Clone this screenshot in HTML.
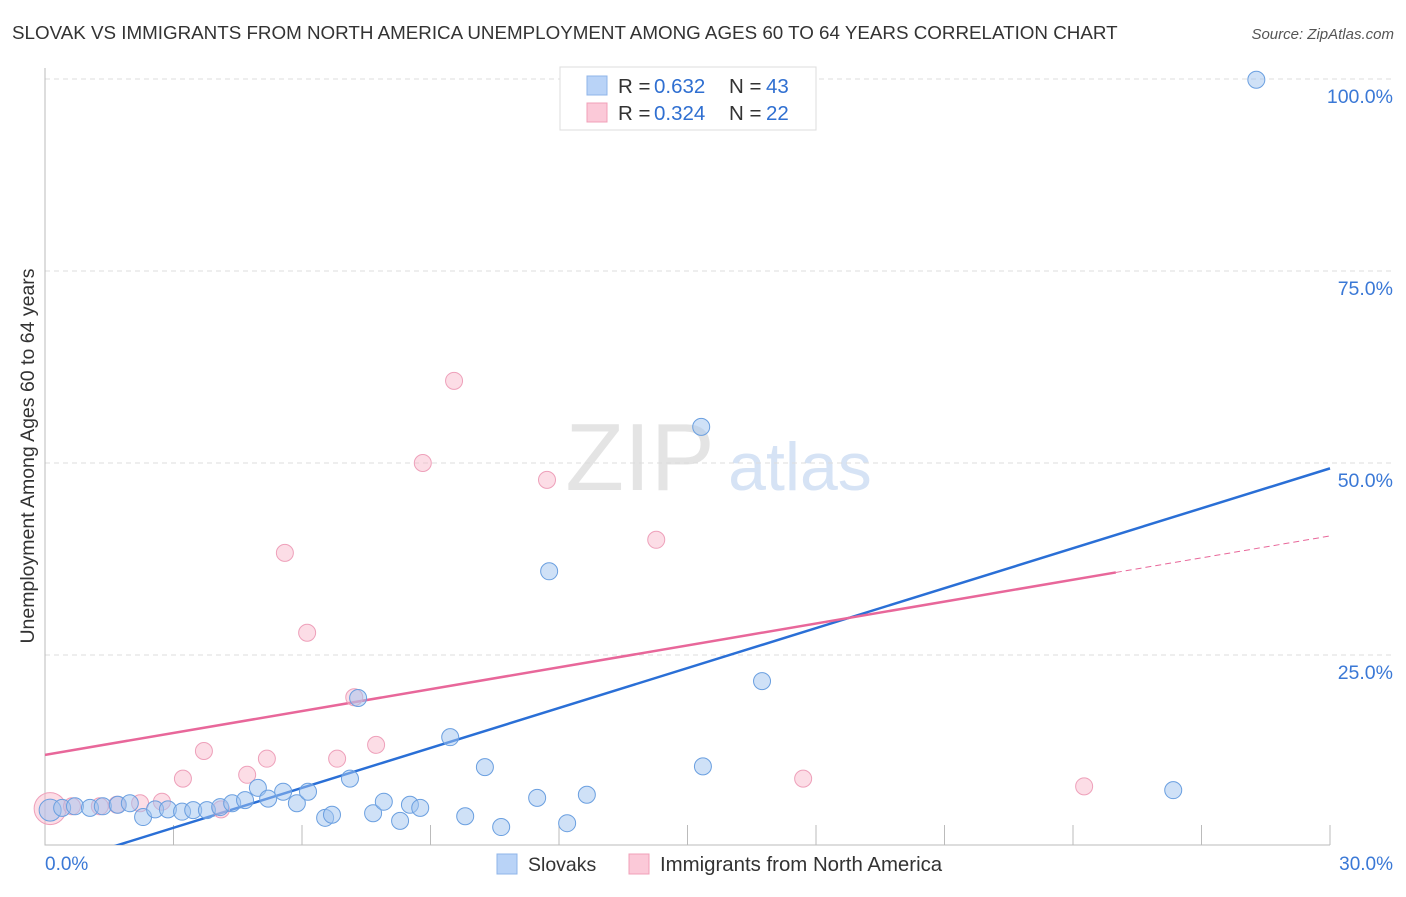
<!DOCTYPE html>
<html><head><meta charset="utf-8">
<style>
body{margin:0;background:#fff;font-family:"Liberation Sans",sans-serif;}
svg text{font-family:"Liberation Sans",sans-serif;}
</style></head>
<body>
<svg id="chart" width="1406" height="892" xmlns="http://www.w3.org/2000/svg">
<defs><clipPath id="plotclip"><rect x="45" y="60" width="1300" height="785"/></clipPath></defs>
<text x="12" y="39" font-size="18.8" fill="#333">SLOVAK VS IMMIGRANTS FROM NORTH AMERICA UNEMPLOYMENT AMONG AGES 60 TO 64 YEARS CORRELATION CHART</text>
<text x="1394" y="39" font-size="15" fill="#555" font-style="italic" text-anchor="end">Source: ZipAtlas.com</text>
<text x="34" y="456" font-size="19.5" fill="#333" text-anchor="middle" transform="rotate(-90 34 456)">Unemployment Among Ages 60 to 64 years</text>
<g>
<text x="640" y="490" font-size="96" fill="#e4e4e4" font-family="Liberation Serif" text-anchor="middle">ZIP</text>
<text x="800" y="490" font-size="68" fill="#d6e3f5" text-anchor="middle">atlas</text>
</g>
<g id="grid"></g><g id="axes"></g><g id="lines" clip-path="url(#plotclip)"></g><g id="pts"></g>
<g>
<rect x="560" y="67" width="256" height="63" fill="#fff" stroke="#ddd"/>
<rect x="587" y="76" width="20" height="19" fill="#b9d3f7" stroke="#8fb4e8"/>
<rect x="587" y="103" width="20" height="19" fill="#fbc9d8" stroke="#f0a0b8"/>
<text x="618" y="93" font-size="20.5" fill="#333">R =</text>
<text x="654" y="93" font-size="20.5" fill="#2f6fd1">0.632</text>
<text x="729" y="93" font-size="20.5" fill="#333">N =</text>
<text x="766" y="93" font-size="20.5" fill="#2f6fd1">43</text>
<text x="618" y="120" font-size="20.5" fill="#333">R =</text>
<text x="654" y="120" font-size="20.5" fill="#2f6fd1">0.324</text>
<text x="729" y="120" font-size="20.5" fill="#333">N =</text>
<text x="766" y="120" font-size="20.5" fill="#2f6fd1">22</text>
</g>
<g>
<rect x="497" y="854" width="20" height="20" fill="#b9d3f7" stroke="#8fb4e8"/>
<text x="528" y="871" font-size="19.5" fill="#333">Slovaks</text>
<rect x="629" y="854" width="20" height="20" fill="#fbc9d8" stroke="#f0a0b8"/>
<text x="660" y="871" font-size="20.4" fill="#333">Immigrants from North America</text>
</g>
</svg>
<script>
const blueX=[0.12,0.40,0.70,1.05,1.35,1.70,1.98,2.29,2.57,2.87,3.20,3.46,3.78,4.09,4.37,4.67,4.97,5.21,5.56,5.88,6.14,6.54,6.70,7.12,7.31,7.66,7.91,8.29,8.52,8.76,9.46,9.81,10.27,10.65,11.49,11.77,12.19,12.65,15.32,15.36,16.74,26.34,28.28];
const blueY=[4.8,5.1,5.3,5.1,5.3,5.5,5.7,3.9,4.9,4.9,4.6,4.8,4.8,5.2,5.7,6.1,7.7,6.3,7.2,5.7,7.2,3.8,4.2,8.9,19.4,4.4,5.9,3.4,5.5,5.1,14.3,4.0,10.4,2.6,6.4,35.9,3.1,6.8,54.7,10.5,21.6,7.4,99.9];
const pinkX=[0.12,0.63,1.28,1.68,2.22,2.73,3.22,3.71,4.11,4.72,5.18,5.6,6.12,6.82,7.22,7.73,8.82,9.55,11.72,14.27,17.7,24.26];
const pinkY=[5.0,5.3,5.3,5.5,5.7,5.9,8.9,12.5,4.9,9.4,11.5,38.3,27.9,11.5,19.5,13.3,50.0,60.7,47.8,40.0,8.9,7.9];
const trendBlue=[-2.7,49.3];
const trendPink=[12.0,40.5];
const yTicks=[25,50,75,100];
const xTickCount=10;
const X=v=>45+v*(1285/30), Y=v=>847-v*7.68;
const ns="http://www.w3.org/2000/svg";
function mk(p,t,a){const e=document.createElementNS(ns,t);for(const k in a)e.setAttribute(k,a[k]);document.getElementById(p).appendChild(e);return e;}
yTicks.forEach(t=>{
 const l=mk('grid','line',{x1:45,x2:1392,y1:Y(t),y2:Y(t),stroke:'#ddd','stroke-dasharray':'5,4'});
 
 
 const tx=mk('grid','text',{x:1393,y:Y(t)+24,'font-size':19.5,fill:'#3a78d6','text-anchor':'end'});tx.textContent=t.toFixed(1)+'%';
 
 
});
const ax=mk('axes','path',{d:'M45,68V845H1330',stroke:'#bbb',fill:'none'});


for(let i=1;i<=xTickCount;i++){const x=X(i*3);const t=mk('axes','line',{x1:x,x2:x,y1:825,y2:845,stroke:'#bbb'});
 
 }
const t0=mk('axes','text',{x:45,y:870,'font-size':19,fill:'#3a78d6'});t0.textContent='0.0%';


const t1=mk('axes','text',{x:1393,y:870,'font-size':19,fill:'#3a78d6','text-anchor':'end'});t1.textContent='30.0%';


const lb=mk('lines','line',{x1:X(0),y1:Y(trendBlue[0]),x2:X(30),y2:Y(trendBlue[1]),stroke:'#2a6fd6','stroke-width':2.5});


const pe=trendPink[0]+(trendPink[1]-trendPink[0])*25/30;
const lp=mk('lines','line',{x1:X(0),y1:Y(trendPink[0]),x2:X(25),y2:Y(pe),stroke:'#e8679a','stroke-width':2.5});


const lpd=mk('lines','line',{x1:X(25),y1:Y(pe),x2:X(30),y2:Y(trendPink[1]),stroke:'#e8679a','stroke-width':1,'stroke-dasharray':'6,4'});


pinkX.forEach((v,i)=>{const c=mk('pts','circle',{cx:X(v),cy:Y(pinkY[i]),r:i==0?16:8.5,fill:'rgba(248,180,200,0.45)',stroke:'#eea0ba'});
 
 });
blueX.forEach((v,i)=>{const c=mk('pts','circle',{cx:X(v),cy:Y(blueY[i]),r:i==0?11:8.5,fill:'rgba(160,196,240,0.5)',stroke:'#6a9fe0'});
 
 });
</script>
</body></html>
